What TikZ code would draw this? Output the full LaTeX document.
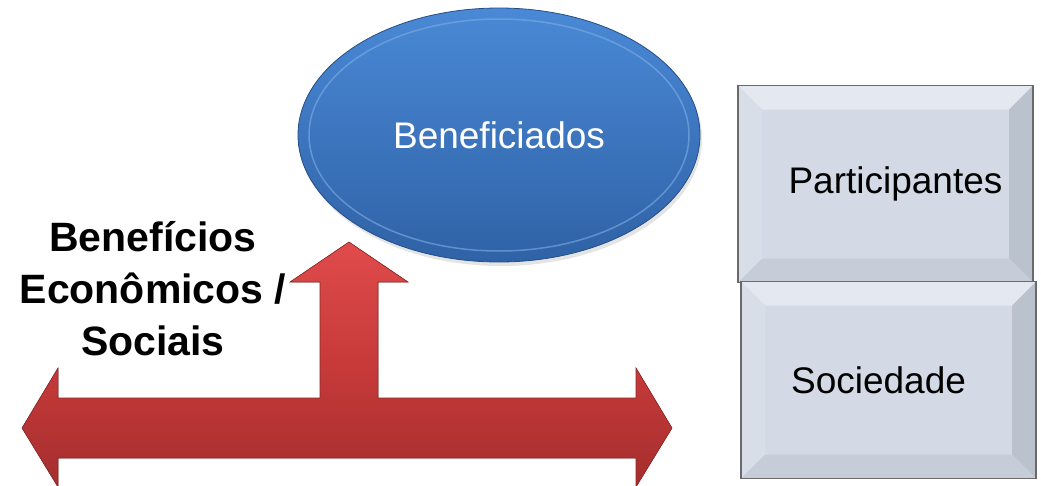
\documentclass[tikz,border=0pt]{standalone}
\usepackage{fontspec}
\setmainfont{Liberation Sans}
\usetikzlibrary{shapes.geometric,shadings}
\definecolor{elltop}{HTML}{4A89D6}
\definecolor{ellbot}{HTML}{2F62A6}
\definecolor{ellring}{HTML}{7FAEE6}
\definecolor{redtop}{HTML}{E04B4B}
\definecolor{redmid}{HTML}{C73A3A}
\definecolor{redbot}{HTML}{A52E2E}
\definecolor{boxfill}{HTML}{D3DAE6}
\definecolor{boxedge}{HTML}{6A6A6A}
\definecolor{bevlight}{HTML}{E4E9F1}
\definecolor{bevdark}{HTML}{BAC2CE}
\definecolor{bevmid}{HTML}{C6CDD9}
\tikzset{
  ellnode/.style={ellipse, draw=ellbot!80!black, line width=0.8pt,
    top color=elltop, bottom color=ellbot, minimum width=402pt, minimum height=254pt,
    inner sep=0pt, text=white, font=\fontsize{37}{44}\selectfont},
  bevelbox/.style={draw=boxedge, line width=1.2pt, fill=boxfill, inner sep=0pt,
    minimum width=295pt, minimum height=197pt, font=\fontsize{37}{44}\selectfont,
    path picture={
      \fill[bevlight] (path picture bounding box.north west) -- (path picture bounding box.north east)
        -- ([xshift=-24pt,yshift=-24pt]path picture bounding box.north east)
        -- ([xshift=24pt,yshift=-24pt]path picture bounding box.north west) -- cycle;
      \fill[bevlight!60!bevmid] (path picture bounding box.north west) -- ([xshift=24pt,yshift=-24pt]path picture bounding box.north west)
        -- ([xshift=24pt,yshift=24pt]path picture bounding box.south west)
        -- (path picture bounding box.south west) -- cycle;
      \fill[bevdark] (path picture bounding box.north east) -- ([xshift=-24pt,yshift=-24pt]path picture bounding box.north east)
        -- ([xshift=-24pt,yshift=24pt]path picture bounding box.south east)
        -- (path picture bounding box.south east) -- cycle;
      \fill[bevmid] (path picture bounding box.south west) -- ([xshift=24pt,yshift=24pt]path picture bounding box.south west)
        -- ([xshift=-24pt,yshift=24pt]path picture bounding box.south east)
        -- (path picture bounding box.south east) -- cycle;
    }},
  bigtext/.style={align=center, font=\bfseries\fontsize{41}{52}\selectfont, text=black},
  arrowshape/.style={top color=redtop, bottom color=redbot, middle color=redmid,
    draw=redbot!85!black, line width=0.6pt}
}
\begin{document}
\begin{tikzpicture}[x=1pt,y=-1pt]
\useasboundingbox (0,0) rectangle (1041,485);
% block arrow
\coordinate (lt) at (22,428);
\coordinate (rt) at (672,428);
\coordinate (ut) at (349,242);
\filldraw[arrowshape] (lt) -- (58,368) -- (58,398) -- (320,398) -- (320,282) -- (290,282) -- (ut)
  -- (408,282) -- (378,282) -- (378,398) -- (636,398) -- (636,368) -- (rt)
  -- (636,487) -- (636,458) -- (58,458) -- (58,487) -- cycle;
% ellipse
\fill[black!30, opacity=0.35] (501,139) ellipse (201pt and 127pt);
\node[ellnode] (ben) at (499,135) {};
\draw[ellring, line width=1.5pt, opacity=0.6] (499,135) ellipse (190pt and 116pt);
\node[text=white, font=\fontsize{37}{44}\selectfont] (bent) at (ben.center) {Beneficiados};
% left text
\node[bigtext] (txt) at (153,289) {Benefícios\\Econômicos /\\Sociais};
% boxes
\node[bevelbox] (part) at (885.5,184) {\hspace*{20pt}Participantes};
\node[bevelbox] (soc) at (888.5,380) {Sociedade\hspace*{20pt}};
\end{tikzpicture}
\end{document}
